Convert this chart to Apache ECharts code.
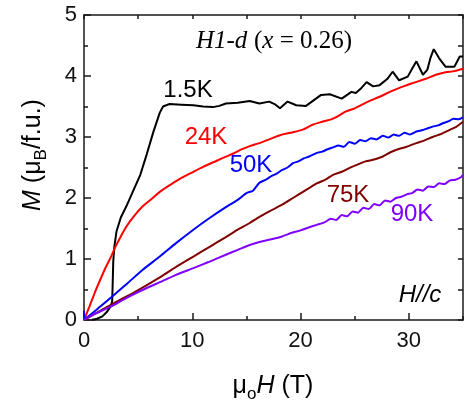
<!DOCTYPE html>
<html>
<head>
<meta charset="utf-8">
<script src="https://cdn.jsdelivr.net/npm/echarts@6/dist/echarts.min.js"></script>
<style>
  html, body { margin: 0; padding: 0; background: #fff; }
  #chart { width: 464px; height: 405px; }
</style>
</head>
<body>
<div id="chart"></div>
<script>
// field (T) and magnetization (muB/f.u.)
const h15 = [0.7, 1.2, 1.7, 2.1, 2.45, 2.6, 2.65, 2.7, 2.8, 3.0, 3.4, 3.9, 4.5, 5.2, 5.8, 6.4, 7.0, 7.3, 7.9, 9.0, 10.1, 11.0, 11.9, 12.5, 13.1, 14.2, 15.3, 16.2, 17.1, 17.6, 18.1, 18.8, 19.6, 20.5, 21.2, 21.9, 22.7, 23.8, 24.7, 25.1, 25.6, 26.1, 26.7, 27.3, 28.0, 28.5, 29.1, 29.9, 30.3, 30.7, 31.3, 31.7, 32.0, 32.3, 32.8, 33.4, 34.2, 34.7, 35]
const m15 = [0, 0.02, 0.06, 0.13, 0.22, 0.3, 0.6, 0.95, 1.2, 1.45, 1.68, 1.86, 2.1, 2.38, 2.72, 3.08, 3.4, 3.5, 3.54, 3.53, 3.52, 3.5, 3.49, 3.51, 3.55, 3.56, 3.59, 3.55, 3.58, 3.54, 3.47, 3.58, 3.52, 3.51, 3.6, 3.69, 3.7, 3.63, 3.74, 3.72, 3.8, 3.9, 3.83, 3.85, 3.95, 4.07, 3.93, 3.99, 4.12, 4.24, 4.02, 4.1, 4.3, 4.44, 4.29, 4.15, 4.15, 4.32, 4.32]

const h24 = [0, 0.5, 1.0, 1.5, 2.0, 2.5, 2.9, 3.4, 3.9, 4.6, 5.4, 6.2, 7.0, 8.0, 9.0, 10.1, 11.0, 12.0, 13.0, 13.8, 14.6, 15.3, 16.2, 17.1, 18.1, 19.1, 20.2, 21.1, 22.0, 23.0, 24.2, 25.0, 26.0, 27.3, 28.5, 29.5, 30.3, 31.5, 32.5, 33.4, 34.2, 35]
const m24 = [0, 0.22, 0.45, 0.66, 0.86, 1.04, 1.2, 1.37, 1.53, 1.7, 1.86, 1.98, 2.1, 2.22, 2.33, 2.43, 2.51, 2.59, 2.67, 2.73, 2.8, 2.85, 2.9, 2.96, 3.03, 3.07, 3.12, 3.2, 3.25, 3.3, 3.42, 3.47, 3.56, 3.66, 3.76, 3.83, 3.88, 3.95, 4.02, 4.06, 4.08, 4.12]

const h50 = [0, 0.05, 1.5, 2.9, 4.0, 5.4, 7.0, 8.5, 10.1, 11.5, 13.1, 14.2, 15.0, 15.6, 16.2, 16.8, 17.3, 17.8, 18.3, 18.8, 19.3, 19.8, 20.3, 20.8, 21.5, 22.0, 22.5, 23.0, 23.5, 24.0, 24.5, 25.0, 25.5, 26.0, 26.5, 27.0, 27.6, 28.1, 28.6, 29.1, 29.6, 30.1, 30.7, 31.2, 31.7, 32.2, 32.7, 33.2, 33.7, 34.1, 34.6, 35]
const m50 = [0.15, 0.02, 0.22, 0.43, 0.6, 0.82, 1.04, 1.26, 1.48, 1.66, 1.85, 1.97, 2.08, 2.12, 2.25, 2.3, 2.36, 2.4, 2.46, 2.5, 2.57, 2.6, 2.65, 2.68, 2.74, 2.76, 2.8, 2.83, 2.86, 2.84, 2.92, 2.89, 2.95, 2.93, 2.98, 2.96, 3.02, 2.99, 3.04, 3.02, 3.07, 3.04, 3.09, 3.11, 3.14, 3.17, 3.19, 3.23, 3.26, 3.3, 3.29, 3.32]

const h75 = [0, 1.0, 2.7, 4.6, 7.0, 8.5, 10.1, 11.6, 13.1, 14.2, 15.3, 16.2, 17.2, 18.3, 19.3, 20.3, 21.5, 22.3, 23.0, 23.8, 24.5, 25.3, 26.0, 26.8, 27.6, 28.3, 29.0, 29.8, 30.7, 31.4, 32.2, 33.0, 33.7, 34.4, 35]
const m75 = [0, 0.1, 0.27, 0.45, 0.7, 0.87, 1.04, 1.2, 1.36, 1.48, 1.59, 1.69, 1.79, 1.89, 2.0, 2.11, 2.24, 2.3, 2.38, 2.43, 2.49, 2.55, 2.6, 2.63, 2.68, 2.75, 2.8, 2.84, 2.9, 2.94, 3.0, 3.05, 3.11, 3.17, 3.25]

const h90 = [0, 1.0, 2.7, 3.9, 5.5, 7.0, 8.5, 10.1, 11.5, 13.1, 14.2, 15.3, 16.2, 17.2, 18.3, 19.2, 20.0, 20.8, 21.5, 22.2, 22.8, 23.3, 23.8, 24.3, 24.8, 25.3, 25.8, 26.3, 26.8, 27.3, 27.8, 28.3, 28.8, 29.3, 29.8, 30.3, 30.8, 31.3, 31.8, 32.3, 32.8, 33.3, 33.8, 34.3, 34.8, 35]
const m90 = [0, 0.1, 0.24, 0.36, 0.5, 0.62, 0.74, 0.85, 0.95, 1.07, 1.15, 1.23, 1.28, 1.32, 1.37, 1.43, 1.47, 1.52, 1.56, 1.6, 1.66, 1.64, 1.72, 1.7, 1.78, 1.76, 1.84, 1.82, 1.9, 1.88, 1.96, 1.94, 2.0, 2.02, 2.06, 2.08, 2.14, 2.12, 2.19, 2.18, 2.24, 2.23, 2.29, 2.3, 2.34, 2.38]

const curves = [
  { name: '1.5K', h: h15, m: m15, color: '#000000', smooth: false },
  { name: '24K', h: h24, m: m24, color: '#ff0000', smooth: 0.3 },
  { name: '50K', h: h50, m: m50, color: '#0000ff', smooth: 0.2 },
  { name: '75K', h: h75, m: m75, color: '#800000', smooth: 0.2 },
  { name: '90K', h: h90, m: m90, color: '#8000ff', smooth: 0.2 }
]

const sans = 'Liberation Sans, Arial, sans-serif'
const serif = 'Liberation Serif, Times New Roman, serif'
const axisCol = '#1a1a1a'
const lineSty = { color: axisCol, width: 1.5 }

const myChart = echarts.init(document.getElementById('chart'))

const textEl = (text, x, y, color, extra) => ({
  type: 'text',
  x: x,
  y: y,
  style: Object.assign({
    text: text,
    fill: color,
    fontFamily: sans,
    fontSize: 24,
    textAlign: 'center',
    textVerticalAlign: 'middle'
  }, extra || {})
})

// rich styles for axis titles (sub = subscript)
const titleRich = {
  n: { fontFamily: sans, fontSize: 25, fill: '#000', verticalAlign: 'bottom', lineHeight: 30 },
  i: { fontFamily: sans, fontStyle: 'italic', fontSize: 25, fill: '#000', verticalAlign: 'bottom', lineHeight: 30 },
  s: { fontFamily: sans, fontSize: 17, fill: '#000', verticalAlign: 'bottom', lineHeight: 30, padding: [0, 0, -4, 0] }
}

const option = {
  animation: false,
  backgroundColor: '#fff',
  grid: { left: 84, right: 1, top: 15, bottom: 85 },
  xAxis: [
    {
      type: 'value', min: 0, max: 35, interval: 10, position: 'bottom',
      axisLine: { show: true, onZero: false, lineStyle: lineSty },
      axisTick: { show: true, inside: true, length: 7, lineStyle: lineSty },
      axisLabel: { fontSize: 22, color: '#111', fontFamily: sans, margin: 10, showMaxLabel: false },
      splitLine: { show: false }
    },
    {
      type: 'value', min: 0, max: 35, interval: 5, position: 'bottom',
      axisLine: { show: false },
      axisTick: { show: true, inside: true, length: 4, lineStyle: lineSty },
      axisLabel: { show: false },
      splitLine: { show: false }
    },
    {
      type: 'value', min: 0, max: 35, interval: 5, position: 'top',
      axisLine: { show: true, onZero: false, lineStyle: lineSty },
      axisTick: { show: true, inside: true, length: 4, lineStyle: lineSty },
      axisLabel: { show: false },
      splitLine: { show: false }
    }
  ],
  yAxis: [
    {
      type: 'value', min: 0, max: 5, interval: 1, position: 'left',
      axisLine: { show: true, onZero: false, lineStyle: lineSty },
      axisTick: { show: true, inside: true, length: 7, lineStyle: lineSty },
      minorTick: { show: true, splitNumber: 2, length: 4, lineStyle: lineSty },
      axisLabel: { fontSize: 22, color: '#111', fontFamily: sans, margin: 7 },
      splitLine: { show: false }
    },
    {
      type: 'value', min: 0, max: 5, interval: 0.5, position: 'right',
      axisLine: { show: true, onZero: false, lineStyle: lineSty },
      axisTick: { show: true, inside: true, length: 5, lineStyle: lineSty },
      axisLabel: { show: false },
      splitLine: { show: false }
    }
  ],
  series: curves.map((c) => ({
    name: c.name,
    type: 'line',
    xAxisIndex: 0,
    yAxisIndex: 0,
    data: c.h.map((v, i) => [v, c.m[i]]),
    showSymbol: false,
    symbol: 'none',
    smooth: c.smooth,
    lineStyle: { color: c.color, width: 2 },
    itemStyle: { color: c.color }
  })),
  graphic: [
    textEl('1.5K', 188, 90, '#000'),
    textEl('24K', 206, 137, '#ff0000'),
    textEl('50K', 251, 165, '#0000ff'),
    textEl('75K', 348, 195, '#800000'),
    textEl('90K', 412, 214, '#8000ff'),
    textEl('H//c', 420, 295, '#000', { fontStyle: 'italic' }),
    textEl('{i|H1-d} {r|(}{i|x}{r| = 0.26)}', 274, 41, '#000', {
      rich: {
        i: { fontFamily: serif, fontStyle: 'italic', fontSize: 25, fill: '#000' },
        r: { fontFamily: serif, fontSize: 25, fill: '#000' }
      }
    }),
    textEl('{n|μ}{s|o}{i|H}{n| (T)}', 273, 384, '#000', { rich: titleRich }),
    Object.assign(textEl('{i|M}{n| (μ}{s|B}{n|/f.u.)}', 31, 155, '#000', { rich: titleRich }),
      { rotation: Math.PI / 2 })
  ]
}

myChart.setOption(option)
window.addEventListener('resize', () => {
  myChart.resize()
})
</script>
</body>
</html>
